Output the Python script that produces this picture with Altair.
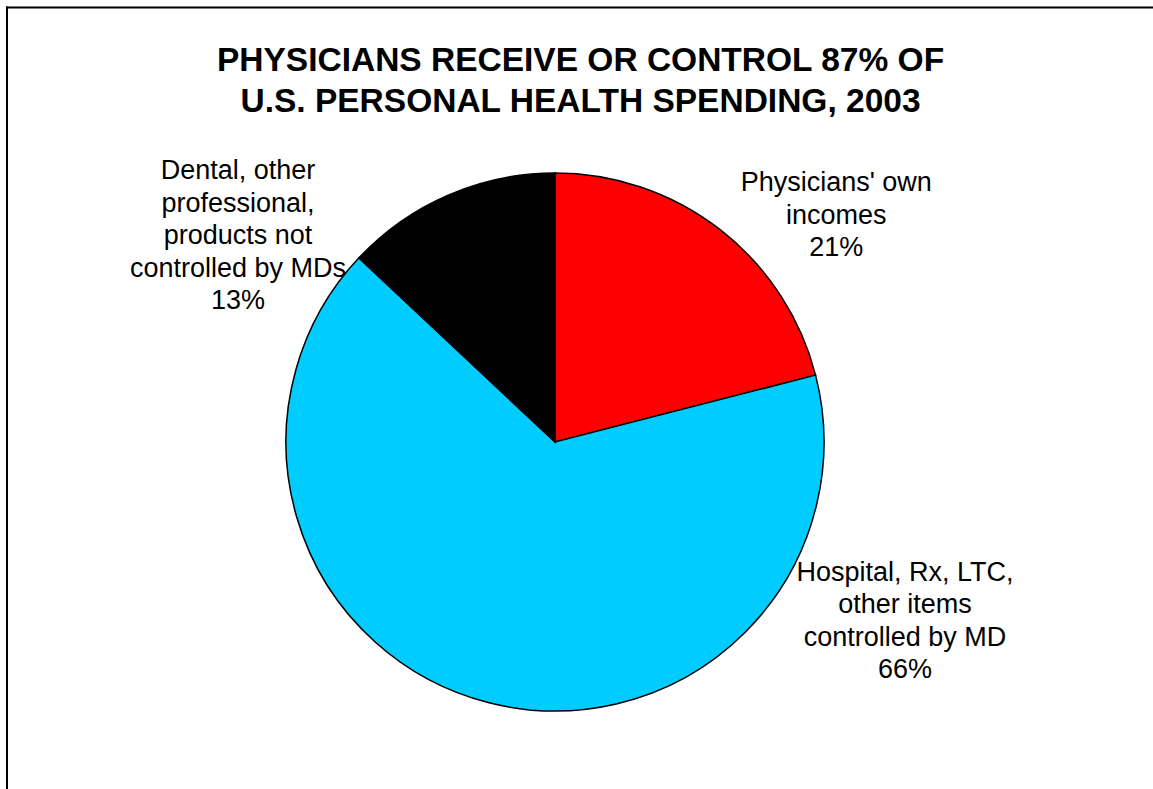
import math
import altair as alt
import pandas as pd

# ---- data ----
categories = [
    "Physicians' own incomes",
    "Hospital, Rx, LTC, other items controlled by MD",
    "Dental, other professional, products not controlled by MDs",
]
shares = [21, 66, 13]
label_lines = [
    "Physicians' own|incomes",
    "Hospital, Rx, LTC,|other items|controlled by MD",
    "Dental, other|professional,|products not|controlled by MDs",
]
colors = ["#FF0000", "#00CCFF", "#000000"]
title_lines = ["PHYSICIANS RECEIVE OR CONTROL 87% OF", "U.S. PERSONAL HEALTH SPENDING, 2003"]

df = pd.DataFrame({
    "category": categories,
    "share": shares,
    "label": label_lines,
    "order": list(range(len(categories))),
})

FONT = "Liberation Sans, Arial, Helvetica, sans-serif"
W, H = 1153, 789
CX, CY = 555, 442          # pie centre
R_PIE = 269
R_LAB = 330

theta_scale = alt.Scale(domain=[0, 100], range=[0, 2 * math.pi])

base = alt.Chart(df).transform_stack(
    stack="share", groupby=[], as_=["s0", "s1"],
    sort=[alt.SortField("order", order="ascending")],
).transform_calculate(
    mid="(datum.s0 + datum.s1) / 2",
    text="split(datum.label + '|' + datum.share + '%', '|')",
)

pie = base.mark_arc(outerRadius=R_PIE, stroke="black", strokeWidth=1.5).encode(
    theta=alt.Theta("s0:Q", scale=theta_scale, stack=False),
    theta2="s1:Q",
    color=alt.Color("category:N", scale=alt.Scale(domain=categories, range=colors), legend=None),
    x=alt.value(CX),
    y=alt.value(CY),
)


def label_layer(i, dx, dy):
    return base.transform_filter(alt.datum.order == i).mark_text(
        radius=R_LAB, dx=dx, dy=dy, font=FONT, fontSize=27, lineHeight=32.5,
        align="center", baseline="alphabetic", color="black",
    ).encode(
        theta=alt.Theta("mid:Q", scale=theta_scale, stack=False),
        text="text:N",
        x=alt.value(CX),
        y=alt.value(CY),
    )


labels = [
    label_layer(0, 79, 10),
    label_layer(1, 432, -181),
    label_layer(2, -186, 40),
]

# decorative frame (top and left edges; right and bottom lie outside the picture)
frame_src = alt.Data(values=[{"edge": "frame"}])
frame_top = alt.Chart(frame_src).mark_rule(color="black", strokeWidth=2).encode(
    x=alt.value(6), x2=alt.value(W + 10), y=alt.value(7.5)
)
frame_left = alt.Chart(frame_src).mark_rule(color="black", strokeWidth=2).encode(
    x=alt.value(7), y=alt.value(6.5), y2=alt.value(H + 10)
)

chart = alt.layer(frame_top, frame_left, pie, *labels).properties(
    width=W,
    height=H,
    autosize=alt.AutoSizeParams(type="none"),
    padding=0,
    background="white",
    title=alt.TitleParams(
        text=title_lines, font=FONT, fontSize=33.5, fontWeight="bold", color="black",
        anchor="middle", frame="group", baseline="top", offset=0, dy=119, dx=4,
        lineHeight=41,
    ),
).configure_view(stroke=None)

chart.save("out.html", embed_options={"renderer": "svg", "actions": False})
